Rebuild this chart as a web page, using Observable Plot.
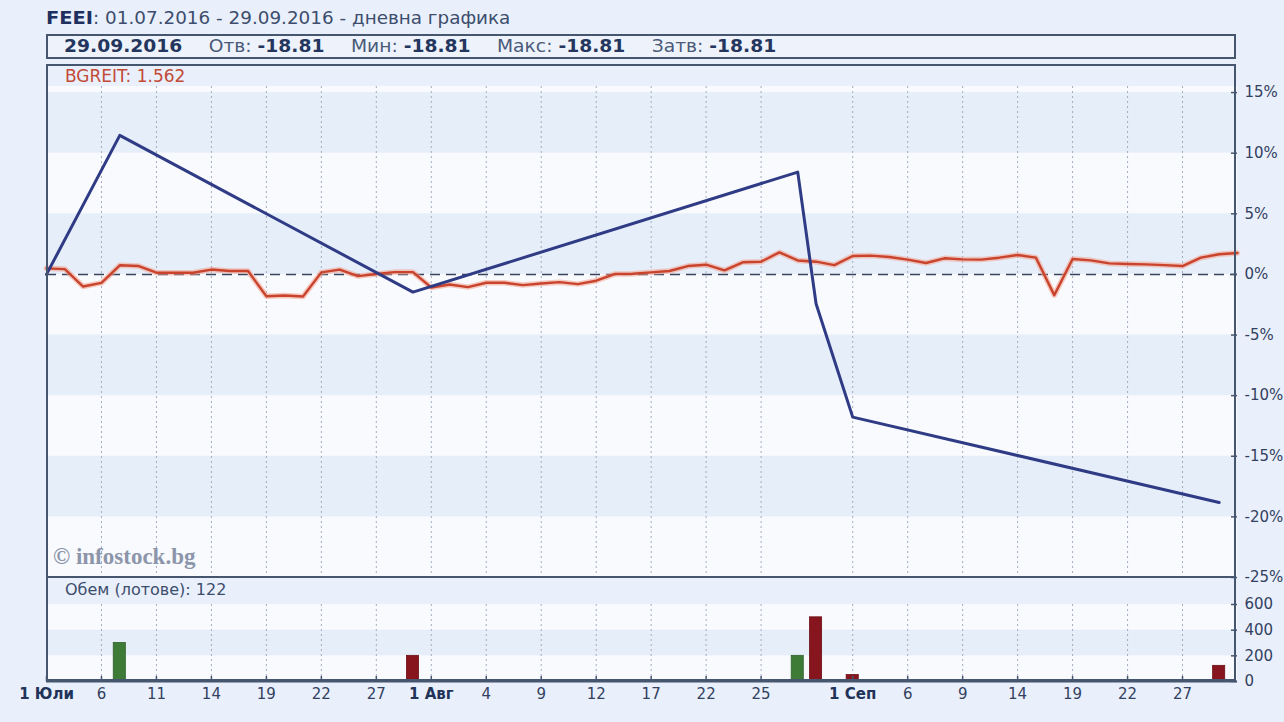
<!DOCTYPE html>
<html><head><meta charset="utf-8">
<script src="https://cdn.jsdelivr.net/npm/d3@7"></script>
<script src="https://cdn.jsdelivr.net/npm/@observablehq/plot@0.6"></script>
<style>
html,body{margin:0;padding:0;background:#e9f0fb;}
#root{position:relative;width:1284px;height:722px;overflow:hidden;font-family:"DejaVu Sans",Verdana,sans-serif;}
.abs{position:absolute;white-space:nowrap;}
#title{left:46px;top:7px;font-size:17px;color:#3d4d6d;transform:scaleX(1.08);transform-origin:left center;}
#title b{color:#1f2f5f;font-size:18px;}
#hdr{left:46px;top:34px;width:1186px;height:21px;border:2px solid #46566f;background:#eef3fb;font-size:17px;line-height:21px;color:#4a5a78;}
#hdr .in{display:inline-block;margin-left:16px;transform:scaleX(1.1);transform-origin:left center;}
#hdr b{color:#24365e;}
#hdr span{margin-left:24px;}
#frame{left:46px;top:64px;width:1186px;height:613px;border:2px solid #46566f;pointer-events:none;}
#divider{left:46px;top:576px;width:1190px;height:2px;background:#46566f;}
#bg{left:65px;top:66px;font-size:17px;color:#c24a36;}
#vol{left:65px;top:580px;font-size:16px;color:#3d4d6d;}
#wm{left:53px;top:544px;font-family:"Liberation Serif","DejaVu Serif",serif;font-weight:bold;font-size:23px;color:#8c95a9;}
svg{position:absolute;left:0;}
</style></head>
<body><div id="root">
<div id="title" class="abs"><b>FEEI</b>: 01.07.2016 - 29.09.2016 - дневна графика</div>
<div id="hdr" class="abs"></div>
<div id="bg" class="abs"></div>
<div id="wm" class="abs">© infostock.bg</div>
<div id="vol" class="abs"></div>
</div>
<script>
// ---- data (trading-day index 0 = 1 Jul 2016) ----
const tickIdx = [0,3,6,9,12,15,18,21,24,27,30,33,36,39,44,47,50,53,56,59,62];
const tickLbl = ["1 Юли","6","11","14","19","22","27","1 Авг","4","9","12","17","22","25","1 Сеп","6","9","14","19","22","27"];
const monthStart = ["1 Юли","1 Авг","1 Сеп"];
const pctTicks = [-25,-20,-15,-10,-5,0,5,10,15];
const volTicks = [0,200,400,600];

// BGREIT, % change vs 01.07.2016, one value per trading day
const bgreitPct = [0.5,0.44,-1.0,-0.7,0.75,0.7,0.14,0.14,0.14,0.4,0.28,0.28,-1.8,-1.74,-1.82,0.17,0.39,-0.14,0.03,0.19,0.19,
  -1.08,-0.83,-1.05,-0.69,-0.69,-0.88,-0.75,-0.64,-0.8,-0.52,0.03,0.06,0.17,0.28,0.69,0.8,0.33,1.0,1.05,1.82,1.15,1.05,0.77,
  1.52,1.55,1.44,1.22,0.94,1.33,1.24,1.22,1.38,1.6,1.38,-1.71,1.27,1.16,0.91,0.86,0.83,0.77,0.69,1.38,1.66,1.77];
const bgreitLast = "1.562";

// FEEI trades: day index and % change
const feeiDay = [0,4,20,41,42,44,64];
const feeiPct = [0,11.47,-1.46,8.44,-2.42,-11.77,-18.81];

// Volume (lots)
const volDay = [4,20,41,42,44,64];
const volLots = [300,200,200,500,50,122];

const lastDate = "29.09.2016";
const ohlc = [["Отв:","-18.81"],["Мин:","-18.81"],["Макс:","-18.81"],["Затв:","-18.81"]];

// ---- header texts ----
document.getElementById("hdr").innerHTML =
  `<div class="in"><b>${lastDate}</b>` + ohlc.map(([k,v])=>`<span>${k} <b>${v}</b></span>`).join("") + `</div>`;
document.getElementById("bg").textContent = "BGREIT: " + bgreitLast;
document.getElementById("vol").textContent = "Обем (лотове): " + volLots[volLots.length-1];

// ---- styles ----
const LIGHT = "#e6eefa", WHITE = "#f8fafe", AX = "#46566f", LBL = "#33415f";
const FONT = "DejaVu Sans, Verdana, sans-serif";
const xDom = [0,65];

function bands(ticks, top) {
  const edges = [...ticks, top].filter((v,i,a)=>a.indexOf(v)===i);
  const out = [];
  for (let i=0;i<edges.length-1;i++) out.push({lo:edges[i], hi:edges[i+1], light: i%2===1});
  return out;
}
const mainBands = bands(pctTicks, 15.5);
const vBands = bands(volTicks, 600);

const feeiRows = feeiDay.map((d,i)=>({day:d, pct:feeiPct[i]}));
const volRows = volDay.map((d,i)=>{
  const k = feeiDay.indexOf(d);
  return {day:d, vol:volLots[i], up: feeiPct[k] > feeiPct[k-1]};
});

const main = Plot.plot({
  width:1284, height:514, marginLeft:46, marginRight:47, marginTop:22, marginBottom:1,
  x:{domain:xDom, axis:null},
  y:{domain:[-25,15.5]},
  style:{background:"transparent", fontFamily:FONT, fontSize:"15px", overflow:"visible"},
  marks:[
    Plot.rect(mainBands.filter(b=>b.light), {x1:()=>xDom[0], x2:()=>xDom[1], y1:"lo", y2:"hi", fill:LIGHT}),
    Plot.rect(mainBands.filter(b=>!b.light), {x1:()=>xDom[0], x2:()=>xDom[1], y1:"lo", y2:"hi", fill:WHITE}),
    Plot.ruleX(tickIdx, {x:d=>d, stroke:"#a3acbf", strokeDasharray:"2,3"}),
    Plot.ruleY([0], {stroke:"#38445e", strokeWidth:1.5, strokeDasharray:"10,6"}),
    Plot.line(bgreitPct, {x:(d,i)=>i, y:d=>d, stroke:"#f2a08c", strokeWidth:5.5, strokeOpacity:0.55}),
    Plot.line(bgreitPct, {x:(d,i)=>i, y:d=>d, stroke:"#c9432d", strokeWidth:2.4}),
    Plot.line(feeiRows, {x:"day", y:"pct", stroke:"#2f3b85", strokeWidth:3}),
    Plot.tickY(pctTicks, {y:d=>d, stroke:AX, strokeWidth:1.5, insetLeft:1185}),
    Plot.axisY({ticks:pctTicks, anchor:"right", tickSize:0, tickPadding:7, tickFormat:d=>d+"%", fill:LBL})
  ]
});
main.style.top = "64px";

const regIdx = tickIdx.filter((d,i)=>!monthStart.includes(tickLbl[i]));
const boldIdx = tickIdx.filter((d,i)=>monthStart.includes(tickLbl[i]));
const lab = d => tickLbl[tickIdx.indexOf(d)];

const volPlot = Plot.plot({
  width:1284, height:134, marginLeft:46, marginRight:47, marginTop:27, marginBottom:30,
  x:{domain:xDom},
  y:{domain:[0,600]},
  style:{background:"transparent", fontFamily:FONT, fontSize:"15px", overflow:"visible"},
  marks:[
    Plot.rect(vBands.filter(b=>b.light), {x1:()=>xDom[0], x2:()=>xDom[1], y1:"lo", y2:"hi", fill:LIGHT}),
    Plot.rect(vBands.filter(b=>!b.light), {x1:()=>xDom[0], x2:()=>xDom[1], y1:"lo", y2:"hi", fill:WHITE}),
    Plot.ruleX(tickIdx, {x:d=>d, stroke:"#a3acbf", strokeDasharray:"2,3"}),
    Plot.rectY(volRows.filter(r=>r.up), {x1:d=>d.day-0.33, x2:d=>d.day+0.33, y:"vol", fill:"#3d7b36", stroke:"#2f6229", strokeWidth:0.8}),
    Plot.rectY(volRows.filter(r=>!r.up), {x1:d=>d.day-0.33, x2:d=>d.day+0.33, y:"vol", fill:"#87151d", stroke:"#6b0f15", strokeWidth:0.8}),
    Plot.ruleY([0], {stroke:AX, strokeWidth:2}),
    Plot.tickX(tickIdx, {x:d=>d, stroke:AX, strokeWidth:1.5, insetTop:72}),
    Plot.tickY(volTicks, {y:d=>d, stroke:AX, strokeWidth:1.5, insetLeft:1185}),
    Plot.axisY({ticks:volTicks, anchor:"right", tickSize:0, tickPadding:7, fill:LBL}),
    Plot.axisX({ticks:regIdx, tickFormat:lab, tickSize:0, tickPadding:7, fill:LBL}),
    Plot.axisX({ticks:boldIdx, tickFormat:lab, tickSize:0, tickPadding:7, fill:"#22335a", fontWeight:"bold"})
  ]
});
volPlot.style.top = "577px";

const root = document.getElementById("root");
root.insertBefore(main, root.firstChild);
root.insertBefore(volPlot, root.firstChild);
const fr = document.createElement("div"); fr.id="frame"; fr.className="abs"; root.appendChild(fr);
const dv = document.createElement("div"); dv.id="divider"; dv.className="abs"; root.appendChild(dv);
</script>
</body></html>
